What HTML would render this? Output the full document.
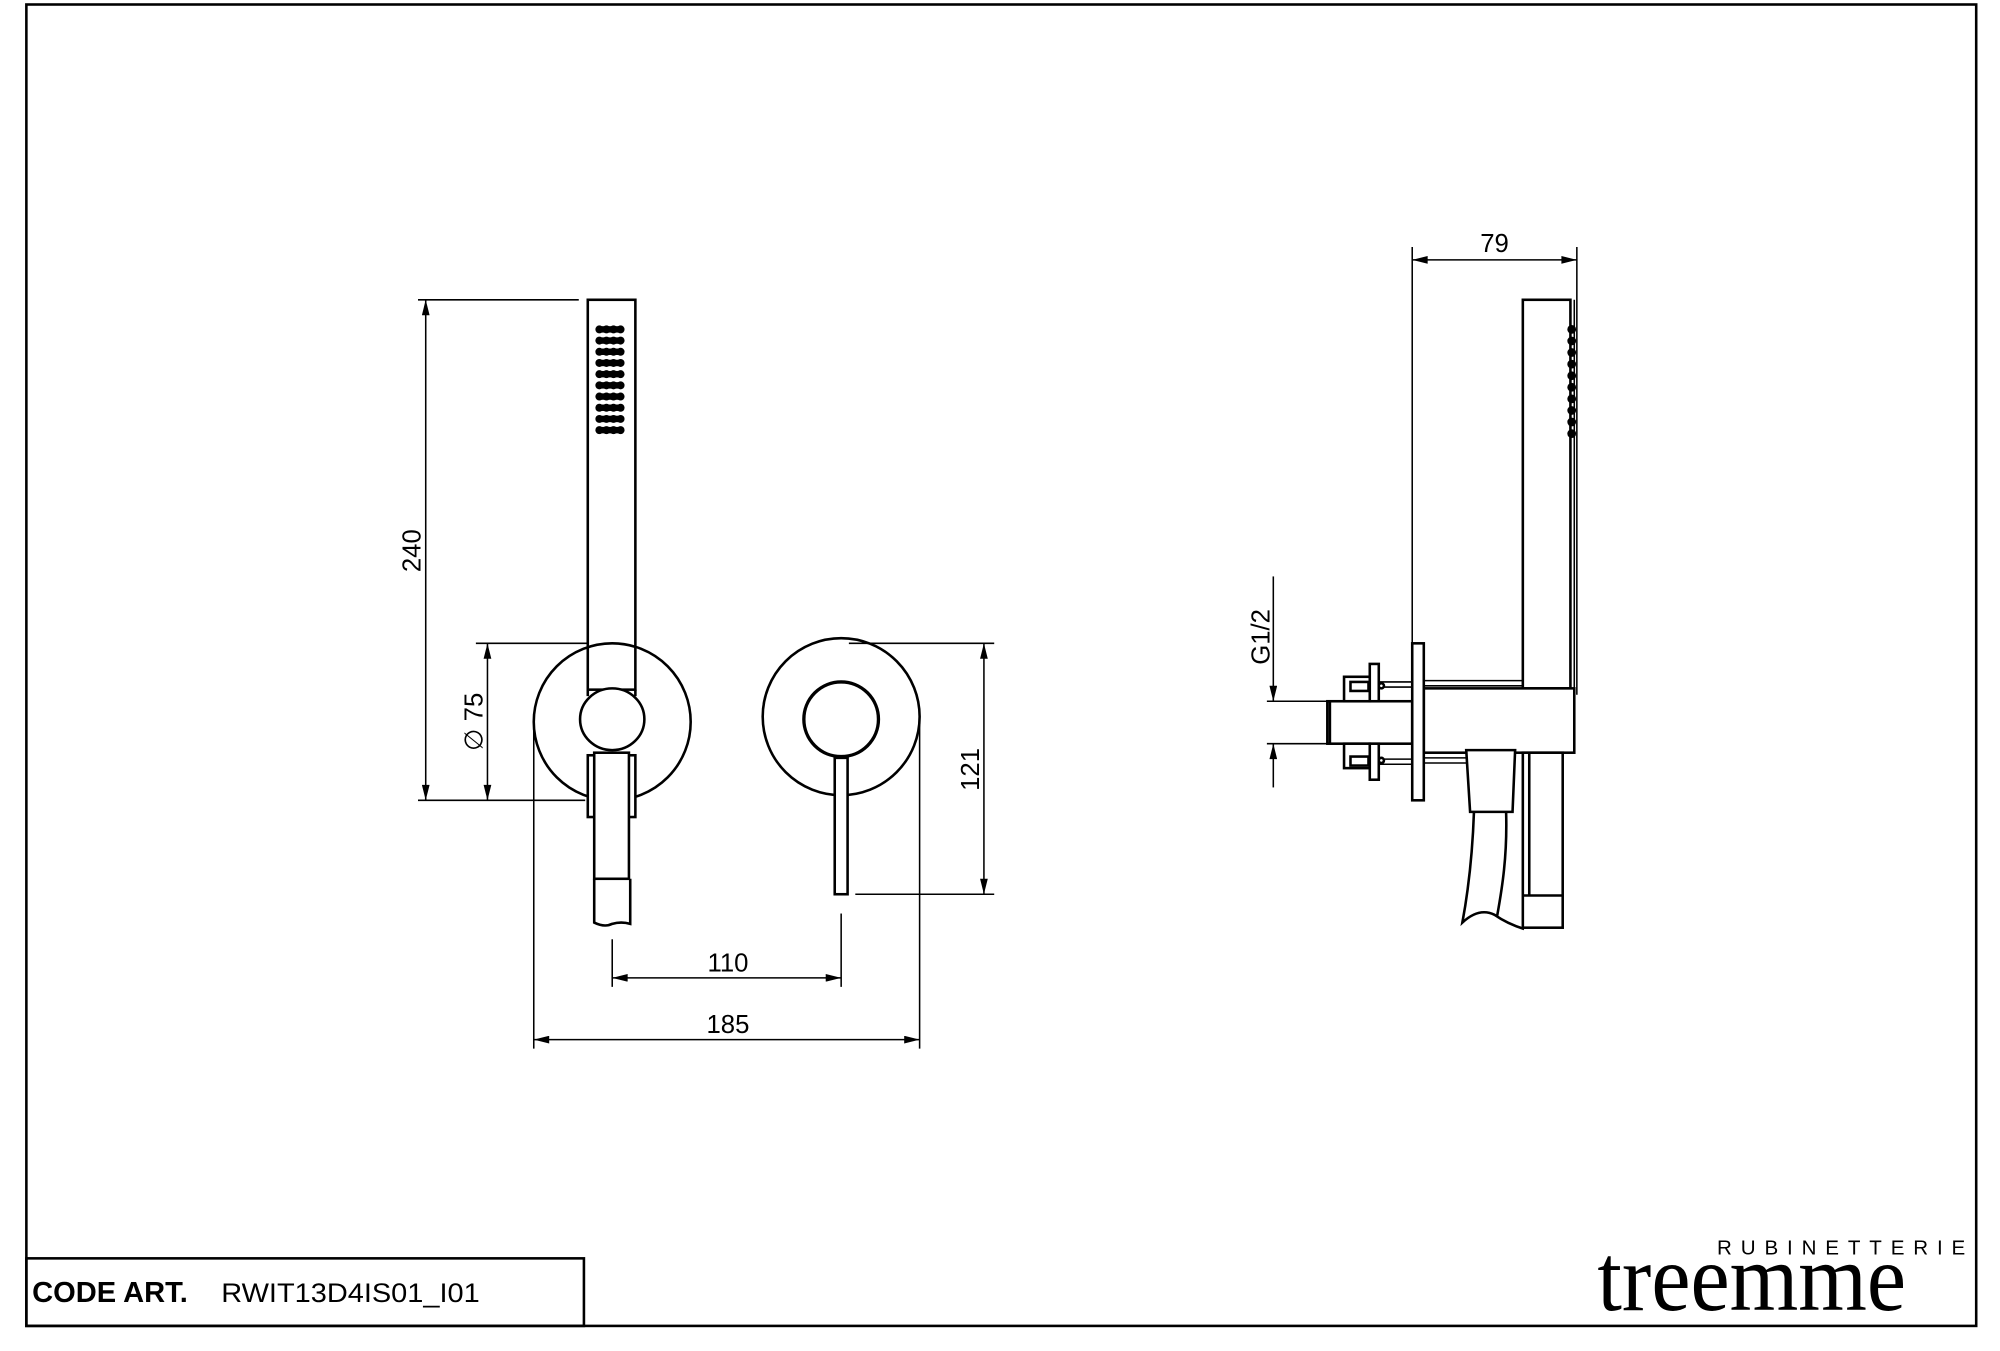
<!DOCTYPE html>
<html><head><meta charset="utf-8"><style>
html,body{margin:0;padding:0;background:#fff;}
svg{display:block;}
text{font-family:"Liberation Sans",Arial,sans-serif;fill:#000;}
</style></head><body>
<svg width="2000" height="1351" viewBox="0 0 1555 1050" preserveAspectRatio="none" xmlns="http://www.w3.org/2000/svg">
<defs>
<marker id="a" viewBox="0 0 12 6" refX="12" refY="3" markerWidth="13" markerHeight="6" orient="auto-start-reverse" markerUnits="userSpaceOnUse"><path d="M0,0 L12,3 L0,6 z" fill="#000"/></marker>
</defs>
<g fill="none" stroke="#000">
<rect x="20.5" y="3.5" width="1516" height="1027" stroke-width="2"/>
<rect x="20.5" y="978" width="433.5" height="52.5" stroke-width="2"/>

<g stroke-width="2">
<rect x="457" y="233" width="37" height="303"/>
<circle cx="476" cy="561" r="61"/>
<circle cx="654" cy="557" r="61"/>
<circle cx="654" cy="559" r="29" stroke-width="2.6"/>
<rect x="649" y="589" width="10" height="106" fill="#fff"/>
<path d="M457 536 V541 M494 536 V541"/>
<rect x="457" y="587" width="6" height="48" fill="#fff"/>
<rect x="488" y="587" width="6" height="48" fill="#fff"/>
<rect x="462" y="585" width="27" height="98" fill="#fff"/>
<path d="M462 683 V717 Q470 721 476 718 Q483 716 490 718 V683"/>
<ellipse cx="476" cy="559" rx="25" ry="24" fill="#fff"/>
</g>
<g fill="#000" stroke="none">
<g id="row"><circle cx="466" cy="256" r="3.1"/><circle cx="471.5" cy="256" r="3.1"/><circle cx="477" cy="256" r="3.1"/><circle cx="482.5" cy="256" r="3.1"/><rect x="466" y="253.5" width="16.5" height="5"/></g>
<use href="#row" y="8.7"/><use href="#row" y="17.4"/><use href="#row" y="26.1"/><use href="#row" y="34.8"/>
<use href="#row" y="43.5"/><use href="#row" y="52.2"/><use href="#row" y="60.9"/><use href="#row" y="69.6"/><use href="#row" y="78.3"/>
</g>

<g stroke-width="1.2">
<line x1="325" y1="233" x2="450" y2="233"/>
<line x1="325" y1="622" x2="455" y2="622"/>
<line x1="331" y1="233" x2="331" y2="622" marker-start="url(#a)" marker-end="url(#a)"/>
<line x1="370" y1="500" x2="457" y2="500"/>
<line x1="379" y1="500" x2="379" y2="622" marker-start="url(#a)" marker-end="url(#a)"/>
<line x1="660" y1="500" x2="773" y2="500"/>
<line x1="665" y1="695" x2="773" y2="695"/>
<line x1="765" y1="500" x2="765" y2="695" marker-start="url(#a)" marker-end="url(#a)"/>
<line x1="476" y1="730" x2="476" y2="767"/>
<line x1="654" y1="710" x2="654" y2="767"/>
<line x1="476" y1="760" x2="654" y2="760" marker-start="url(#a)" marker-end="url(#a)"/>
<line x1="415" y1="562" x2="415" y2="815"/>
<line x1="715" y1="560" x2="715" y2="815"/>
<line x1="415" y1="808" x2="715" y2="808" marker-start="url(#a)" marker-end="url(#a)"/>
<line x1="1098" y1="192" x2="1098" y2="500"/>
<line x1="1226" y1="192" x2="1226" y2="540"/>
<line x1="1098" y1="202" x2="1226" y2="202" marker-start="url(#a)" marker-end="url(#a)"/>
<line x1="985" y1="545" x2="1032" y2="545"/>
<line x1="985" y1="578" x2="1032" y2="578"/>
<line x1="990" y1="448" x2="990" y2="545" marker-end="url(#a)"/>
<line x1="990" y1="612" x2="990" y2="578" marker-end="url(#a)"/>
</g>

<g stroke-width="2">
<rect x="1184" y="233" width="37" height="302"/>
<line x1="1224" y1="233" x2="1224" y2="535" stroke-width="1.2"/>
<rect x="1107" y="535" width="117" height="50" fill="#fff"/>
<rect x="1032" y="545" width="66" height="33"/>
<line x1="1034" y1="545" x2="1034" y2="578"/>
<path d="M1070 530 H1098 M1070 534 H1098 M1070 590 H1098 M1070 594 H1098" stroke-width="1.2"/>
<path d="M1107 529 H1184 M1107 533 H1184 M1107 589 H1140 M1107 593 H1140" stroke-width="1.2"/>
<rect x="1045" y="526" width="20" height="19" fill="#fff"/>
<rect x="1050" y="530" width="14" height="7" fill="#fff"/>
<rect x="1045" y="578" width="20" height="19" fill="#fff"/>
<rect x="1050" y="588" width="14" height="7" fill="#fff"/>
<rect x="1065" y="516" width="7" height="29" fill="#fff"/>
<rect x="1065" y="578" width="7" height="28" fill="#fff"/>
<circle cx="1074" cy="533" r="2" fill="#fff"/><circle cx="1074" cy="591" r="2" fill="#fff"/>
<rect x="1098" y="500" width="9" height="122" fill="#fff"/>
<path d="M1140 583 H1178 L1176 631 H1143 Z" fill="#fff"/>
<path d="M1146 631 C1145 660 1142 690 1137 717 Q1150 705 1162 711 Q1172 718 1185 722"/>
<path d="M1171 631 C1172 665 1168 690 1164 712"/>
<rect x="1184" y="585" width="31" height="136" fill="#fff"/>
<line x1="1189" y1="585" x2="1189" y2="696"/>
<line x1="1184" y1="696" x2="1215" y2="696"/>
</g>
</g>
<g fill="#000">
<circle cx="1222" cy="256" r="3.4"/><circle cx="1222" cy="265" r="3.4"/><circle cx="1222" cy="274" r="3.4"/><circle cx="1222" cy="283" r="3.4"/><circle cx="1222" cy="292" r="3.4"/><circle cx="1222" cy="301" r="3.4"/><circle cx="1222" cy="310" r="3.4"/><circle cx="1222" cy="319" r="3.4"/><circle cx="1222" cy="328" r="3.4"/><circle cx="1222" cy="337" r="3.4"/>
</g>

<text x="566" y="755" font-size="20" text-anchor="middle">110</text>
<text x="566" y="803" font-size="20" text-anchor="middle">185</text>
<text x="1162" y="196" font-size="20" text-anchor="middle">79</text>
<text transform="translate(327,428) rotate(-90)" font-size="20" text-anchor="middle">240</text>
<text transform="translate(375,561) rotate(-90)" font-size="20" text-anchor="middle">∅ 75</text>
<text transform="translate(761,598) rotate(-90)" font-size="20" text-anchor="middle">121</text>
<text transform="translate(987,495) rotate(-90)" font-size="20" text-anchor="middle">G1/2</text>

<text x="25" y="1012" font-size="22" font-weight="bold" textLength="121" lengthAdjust="spacingAndGlyphs">CODE ART.</text>
<text x="172" y="1012" font-size="21" textLength="201" lengthAdjust="spacingAndGlyphs">RWIT13D4IS01_I01</text>
<text x="1335" y="975" font-size="16" textLength="193" lengthAdjust="spacing">RUBINETTERIE</text>
<text x="1242" y="1018" font-size="74" style="font-family:'Liberation Serif',serif" textLength="240" lengthAdjust="spacingAndGlyphs">treemme</text>
</svg>
</body></html>
